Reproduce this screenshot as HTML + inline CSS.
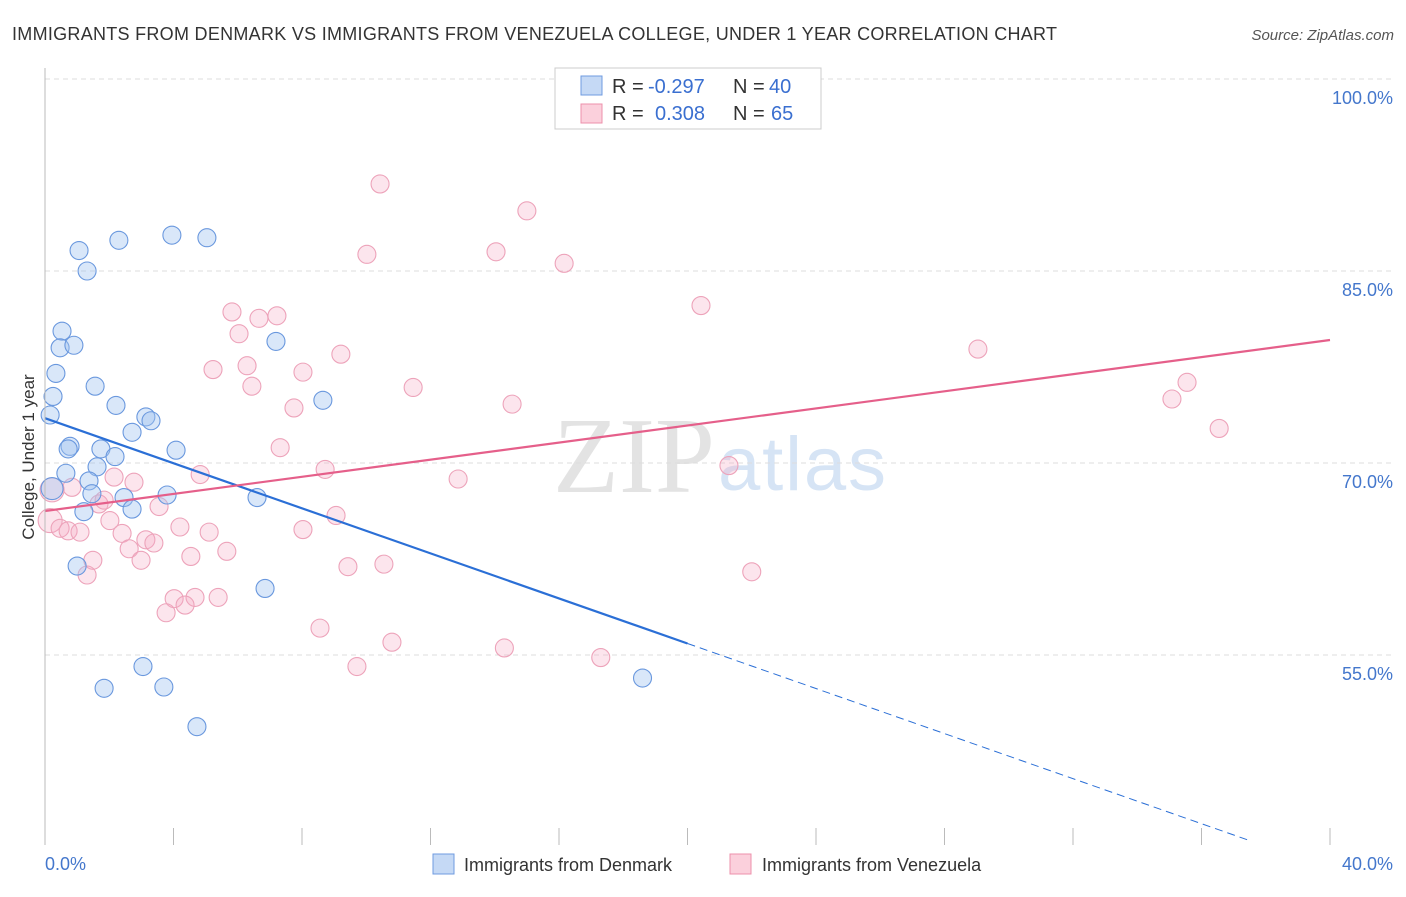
<!DOCTYPE html>
<html><head><meta charset="utf-8"><style>
body{margin:0;background:#fff;font-family:"Liberation Sans",sans-serif}
</style></head><body>
<svg id="c" width="1406" height="892" xmlns="http://www.w3.org/2000/svg" font-family="Liberation Sans, sans-serif">
<text x="12" y="40" font-size="18" fill="#333" textLength="1045">IMMIGRANTS FROM DENMARK VS IMMIGRANTS FROM VENEZUELA COLLEGE, UNDER 1 YEAR CORRELATION CHART</text>
<text x="1394" y="40" font-size="15" fill="#555" font-style="italic" text-anchor="end">Source: ZipAtlas.com</text>
<text x="553" y="492" font-size="108" fill="#e3e3e3" font-family="Liberation Serif, serif" textLength="162">ZIP</text>
<text x="718" y="490" font-size="76" fill="#d6e4f5" textLength="168">atlas</text>
<g id="grid"></g><g id="pts"></g><g id="lines"></g>
<line x1="45" y1="68" x2="45" y2="845" stroke="#bbb"/>
<text transform="translate(34,457) rotate(-90)" font-size="17" fill="#333" text-anchor="middle">College, Under 1 year</text>
<text x="45" y="870" font-size="18" fill="#4477cc">0.0%</text>
<text x="1393" y="870" font-size="18" fill="#4477cc" text-anchor="end">40.0%</text>
<g>
<rect x="555" y="68" width="266" height="61" fill="#fff" stroke="#ccc"/>
<rect x="581" y="76" width="21" height="19" fill="#c5d9f5" stroke="#6f9be0"/>
<rect x="581" y="104" width="21" height="19" fill="#fbd0dc" stroke="#ec90ab"/>
<g font-size="20" fill="#333">
<text x="612" y="93">R =</text><text x="648" y="93" fill="#3a6fd0">-0.297</text><text x="733" y="93">N =</text><text x="769" y="93" fill="#3a6fd0">40</text>
<text x="612" y="120">R =</text><text x="655" y="120" fill="#3a6fd0">0.308</text><text x="733" y="120">N =</text><text x="771" y="120" fill="#3a6fd0">65</text>
</g>
</g>
<g>
<rect x="433" y="854" width="21" height="20" fill="#c5d9f5" stroke="#6f9be0"/>
<text x="464" y="871" font-size="18" fill="#333">Immigrants from Denmark</text>
<rect x="730" y="854" width="21" height="20" fill="#fbd0dc" stroke="#ec90ab"/>
<text x="762" y="871" font-size="18" fill="#333">Immigrants from Venezuela</text>
</g>
</svg>
<script>
const yTicks=[100,85,70,55];
const yTickLabels=["100.0%","85.0%","70.0%","55.0%"];
const xTicks=[0,4,8,12,16,20,24,28,32,36,40];
const denmarkX=[1.06,1.31,2.30,3.95,5.04,0.53,0.47,0.90,7.19,0.34,1.56,0.25,2.21,8.65,0.16,3.14,3.30,2.71,0.78,0.72,1.74,4.08,2.18,1.62,0.65,1.37,0.22,1.46,2.46,3.80,6.60,1.21,2.71,1.00,6.85,3.05,1.84,3.70,4.73,18.6];
const denmarkY=[86.6,85.0,87.4,87.8,87.6,80.3,79.0,79.2,79.5,77.0,76.0,75.2,74.5,74.9,73.75,73.6,73.3,72.4,71.3,71.1,71.1,71.0,70.5,69.7,69.2,68.6,68.0,67.6,67.3,67.5,67.3,66.2,66.4,61.95,60.2,54.1,52.4,52.5,49.4,53.2];
const venezuelaX=[10.43,15.0,10.02,14.04,16.16,20.42,5.82,6.66,7.22,6.04,9.21,29.04,5.23,6.29,8.03,6.44,11.46,35.55,7.75,14.54,35.08,36.55,7.32,8.72,21.29,4.83,12.86,2.15,2.77,0.84,0.22,1.68,1.84,3.55,2.02,9.06,0.16,0.47,0.72,1.09,2.40,4.20,5.11,8.03,3.14,3.39,2.62,5.66,4.54,1.49,2.99,1.31,9.43,10.55,22.0,4.02,4.67,5.39,4.36,3.77,8.56,10.8,14.3,17.3,9.71];
const venezuelaY=[91.8,89.7,86.3,86.5,85.6,82.3,81.8,81.3,81.5,80.1,78.5,78.9,77.3,77.6,77.1,76.0,75.9,76.3,74.3,74.6,75.0,72.7,71.2,69.5,69.8,69.1,68.75,68.9,68.5,68.1,67.9,66.8,67.1,66.6,65.5,65.9,65.5,64.9,64.7,64.6,64.5,65.0,64.6,64.8,64.0,63.75,63.3,63.1,62.7,62.4,62.4,61.25,61.9,62.1,61.5,59.4,59.5,59.5,58.9,58.3,57.1,56.0,55.55,54.8,54.1];
const denmarkTrend=[73.5,-0.88];
const venezuelaTrend=[66.25,0.334];
const NS="http://www.w3.org/2000/svg";
const sx=v=>45+v/40*1285, sy=v=>79+(100-v)*12.8;
function mk(t,a,p){const e=document.createElementNS(NS,t);for(const k in a)e.setAttribute(k,a[k]);p.appendChild(e);return e;}
const grid=document.getElementById('grid'),pts=document.getElementById('pts'),lines=document.getElementById('lines'),svg=document.getElementById('c');
yTicks.forEach((t,i)=>{
 const l=mk('line',{x1:45,x2:1394,y1:sy(t),y2:sy(t),stroke:'#ddd','stroke-dasharray':'5,4'},grid);
 
 
 const tx=mk('text',{x:1393,y:sy(t)+25,'font-size':18,fill:'#4477cc','text-anchor':'end'},svg);
 tx.textContent=yTickLabels[i];
 
 
});
xTicks.forEach(t=>{
 const l=mk('line',{x1:sx(t),x2:sx(t),y1:828,y2:845,stroke:'#bbb'},grid);
 
 
});
venezuelaX.forEach((x,i)=>{
 const c=mk('circle',{cx:sx(x),cy:sy(venezuelaY[i]),r:(x<0.3?12:9),fill:'rgba(245,170,195,0.3)',stroke:'#eda3ba','stroke-width':1.1},pts);
 
 
});
denmarkX.forEach((x,i)=>{
 const c=mk('circle',{cx:sx(x),cy:sy(denmarkY[i]),r:(x<0.25&&denmarkY[i]<69?11:9),fill:'rgba(160,195,240,0.4)',stroke:'#6a98de','stroke-width':1.1},pts);
 
 
});
const f=(tr,x)=>tr[0]+tr[1]*x;
let l=mk('line',{x1:sx(0),y1:sy(f(denmarkTrend,0)),x2:sx(20),y2:sy(f(denmarkTrend,20)),stroke:'#2b6fd6','stroke-width':2.2},lines);


l=mk('line',{x1:sx(20),y1:sy(f(denmarkTrend,20)),x2:sx(37.5),y2:sy(f(denmarkTrend,37.5)),stroke:'#2b6fd6','stroke-width':1,'stroke-dasharray':'8,5'},lines);


l=mk('line',{x1:sx(0),y1:sy(f(venezuelaTrend,0)),x2:sx(40),y2:sy(f(venezuelaTrend,40)),stroke:'#e55f8a','stroke-width':2.2},lines);


</script>
</body></html>
